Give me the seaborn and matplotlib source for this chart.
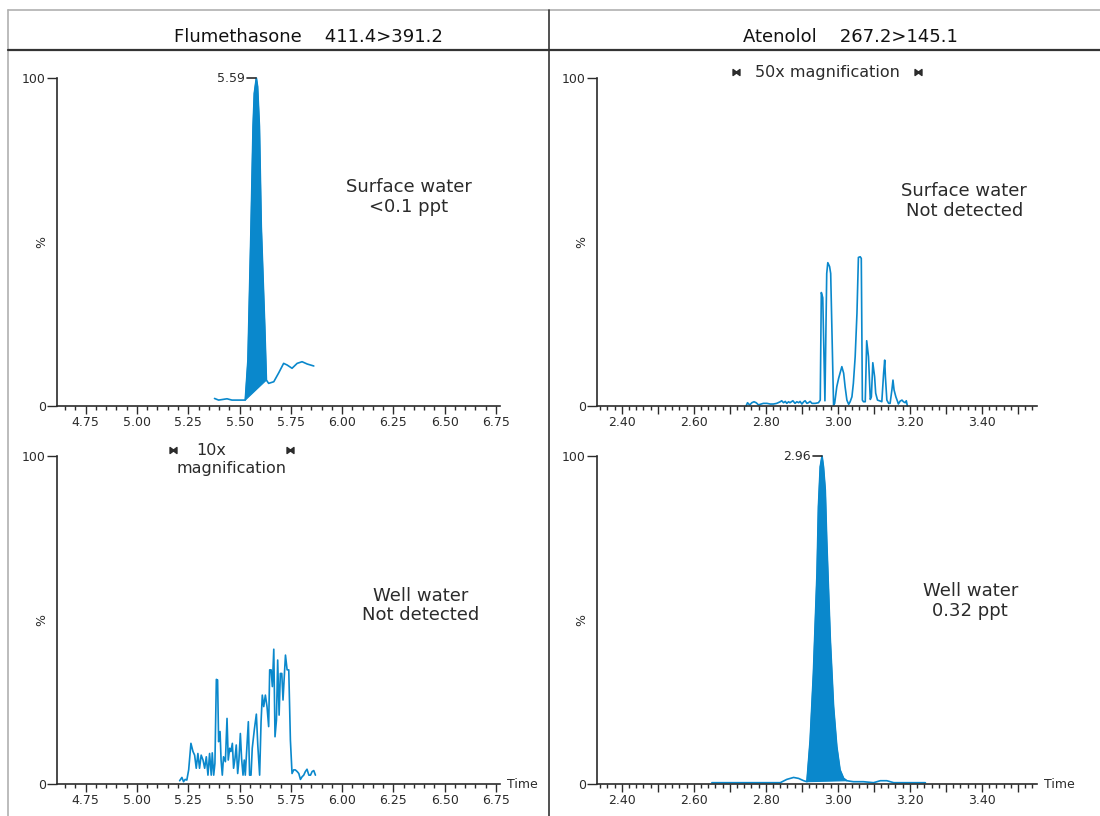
import numpy as np
import pandas as pd
import seaborn as sns
import matplotlib.pyplot as plt
from matplotlib.lines import Line2D
from matplotlib.ticker import FixedLocator, MultipleLocator

# Flumethasone, surface water (peak integrated 5.53 -> 5.63)
flu_sw_time = [5.378, 5.398, 5.439, 5.463, 5.528, 5.541, 5.556, 5.566, 5.572, 5.582, 5.588,
               5.597, 5.606, 5.623, 5.631, 5.642, 5.667, 5.691, 5.715, 5.732, 5.756, 5.781,
               5.805, 5.830, 5.862]
flu_sw_resp = [2.3, 1.8, 2.2, 1.8, 1.8, 14.0, 54.7, 85.2, 95.3, 100.0, 97.4,
               85.2, 54.7, 24.2, 7.9, 6.9, 7.4, 10.1, 13.0, 12.5, 11.5, 13.0,
               13.5, 12.8, 12.2]
flu_sw_peak = (4, 14)

# Flumethasone, well water (10x magnification)
flu_ww_time = [5.208, 5.219, 5.227, 5.235, 5.243, 5.252, 5.263, 5.273, 5.281, 5.289, 5.297,
               5.305, 5.313, 5.322, 5.330, 5.338, 5.346, 5.354, 5.362, 5.367, 5.374, 5.380,
               5.387, 5.393, 5.398, 5.405, 5.410, 5.416, 5.422, 5.431, 5.439, 5.445, 5.452,
               5.458, 5.465, 5.471, 5.478, 5.484, 5.491, 5.497, 5.504, 5.510, 5.517, 5.523,
               5.528, 5.536, 5.543, 5.549, 5.556, 5.562, 5.572, 5.582, 5.589, 5.598, 5.605,
               5.611, 5.618, 5.626, 5.634, 5.642, 5.647, 5.654, 5.660, 5.667, 5.673, 5.680,
               5.686, 5.693, 5.699, 5.706, 5.712, 5.719, 5.724, 5.732, 5.740, 5.748, 5.756,
               5.764, 5.772, 5.781, 5.789, 5.797, 5.805, 5.813, 5.821, 5.829, 5.838, 5.846,
               5.854, 5.862, 5.870]
flu_ww_resp = [1.0, 2.0, 0.7, 1.4, 1.2, 4.3, 12.4, 9.9, 8.8, 4.8, 9.3,
               4.8, 8.8, 7.3, 4.8, 8.3, 2.7, 9.3, 2.7, 9.5, 2.7, 6.3,
               31.9, 31.7, 12.9, 16.0, 7.3, 2.7, 8.3, 6.8, 20.0, 7.3, 10.9,
               9.9, 12.4, 4.8, 7.8, 11.9, 3.2, 7.3, 15.4, 7.8, 2.7, 7.3,
               2.7, 11.4, 19.0, 2.7, 2.7, 10.9, 16.5, 21.3, 11.9, 2.7, 19.0,
               27.1, 23.6, 27.1, 23.6, 17.5, 34.8, 34.8, 29.7, 41.1, 14.4, 19.5,
               37.8, 21.0, 33.7, 33.7, 25.6, 33.7, 39.3, 34.8, 34.8, 13.4, 3.2,
               4.3, 4.3, 3.8, 3.2, 1.4, 2.2, 2.7, 3.8, 4.5, 2.7, 2.7,
               3.8, 4.1, 2.7]

# Atenolol, surface water (50x magnification)
ate_sw_time = [2.745, 2.749, 2.755, 2.761, 2.767, 2.773, 2.780, 2.784, 2.793, 2.803, 2.812,
               2.821, 2.830, 2.840, 2.844, 2.849, 2.854, 2.858, 2.863, 2.867, 2.875, 2.881,
               2.886, 2.891, 2.895, 2.900, 2.905, 2.909, 2.914, 2.918, 2.923, 2.928, 2.937,
               2.946, 2.951, 2.954, 2.958, 2.964, 2.969, 2.972, 2.977, 2.980, 2.988, 2.991,
               2.997, 3.002, 3.006, 3.011, 3.016, 3.020, 3.025, 3.030, 3.034, 3.039, 3.043,
               3.048, 3.053, 3.057, 3.062, 3.065, 3.068, 3.071, 3.076, 3.080, 3.085, 3.090,
               3.093, 3.097, 3.102, 3.105, 3.110, 3.118, 3.122, 3.127, 3.130, 3.132, 3.136,
               3.141, 3.145, 3.150, 3.153, 3.156, 3.161, 3.166, 3.168, 3.173, 3.178, 3.182,
               3.187, 3.190, 3.193]
ate_sw_resp = [0.0, 1.0, 0.3, 1.0, 1.3, 1.0, 0.3, 0.5, 0.8, 0.8, 0.6,
               0.6, 0.8, 1.3, 1.6, 1.0, 1.4, 0.8, 1.3, 1.0, 1.6, 0.8,
               1.3, 1.0, 1.4, 0.6, 1.3, 1.6, 0.8, 1.0, 1.4, 0.8, 0.8,
               1.0, 1.8, 34.6, 33.0, 1.6, 40.4, 43.7, 42.5, 40.4, 0.3, 0.8,
               5.9, 8.4, 10.0, 12.0, 10.0, 5.9, 1.8, 0.5, 1.3, 2.8, 6.9,
               15.0, 28.3, 45.3, 45.5, 45.0, 1.8, 1.3, 1.3, 19.9, 15.0, 2.0,
               2.8, 13.2, 8.9, 3.9, 1.8, 1.5, 1.3, 10.0, 14.0, 8.9, 1.8,
               0.8, 0.8, 4.9, 7.9, 4.9, 2.8, 1.3, 0.6, 1.5, 1.8, 1.3,
               1.0, 1.6, 0.0]

# Atenolol, well water (peak integrated 2.91 -> 3.02)
ate_ww_time = [2.650, 2.840, 2.858, 2.877, 2.891, 2.905, 2.914, 2.923, 2.932, 2.942, 2.946,
               2.951, 2.956, 2.960, 2.965, 2.969, 2.979, 2.988, 2.997, 3.006, 3.016, 3.025,
               3.043, 3.071, 3.099, 3.118, 3.136, 3.155, 3.243]
ate_ww_resp = [0.4, 0.4, 1.4, 2.0, 1.7, 1.0, 0.7, 13.4, 33.7, 64.2, 84.6,
               96.7, 100.0, 96.7, 89.6, 74.4, 43.9, 23.6, 11.4, 4.3, 1.7, 1.0,
               0.7, 0.7, 0.4, 1.0, 1.0, 0.4, 0.4]
ate_ww_peak = (6, 21)

titles = ["Flumethasone    411.4>391.2", "Atenolol    267.2>145.1"]
left_ticks = [4.75, 5.00, 5.25, 5.50, 5.75, 6.00, 6.25, 6.50, 6.75]
left_labels = ["4.75", "5.00", "5.25", "5.50", "5.75", "6.00", "6.25", "6.50", "6.75"]
right_ticks = [2.40, 2.50, 2.60, 2.70, 2.80, 2.90, 3.00, 3.10, 3.20, 3.30, 3.40, 3.50]
right_labels = ["2.40", "", "2.60", "", "2.80", "", "3.00", "", "3.20", "", "3.40", ""]

BLUE = "#0a88cc"
INK = "#2b2b2b"

sns.set_style("ticks")
plt.rcParams["font.family"] = ["DejaVu Sans"]

fig = plt.figure(figsize=(11, 8.16), dpi=100)
W, H = 1100, 816


def make_axes(x0, x1, y_bottom):
    # pixel coords -> figure fractions
    return fig.add_axes([x0 / W, 1 - y_bottom / H, (x1 - x0) / W, 328 / H])


ax_tl = make_axes(57, 500, 406)
ax_bl = make_axes(57, 500, 784)
ax_tr = make_axes(597, 1037, 406)
ax_br = make_axes(597, 1037, 784)


def style(ax, left):
    if left:
        ax.set_xlim(4.61, 6.77)
        ax.xaxis.set_major_locator(FixedLocator(left_ticks))
        ax.set_xticklabels(left_labels)
        ax.xaxis.set_minor_locator(MultipleLocator(0.05))
    else:
        ax.set_xlim(2.331, 3.553)
        ax.xaxis.set_major_locator(FixedLocator(right_ticks))
        ax.set_xticklabels(right_labels)
        ax.xaxis.set_minor_locator(MultipleLocator(0.02))
    ax.set_ylim(0, 100)
    ax.set_yticks([0, 100])
    ax.set_yticklabels(["0", "100"])
    sns.despine(ax=ax)
    for s in ["left", "bottom"]:
        ax.spines[s].set_color(INK)
        ax.spines[s].set_linewidth(1.2)
    ax.tick_params(axis="x", which="major", length=5.5, width=1, colors=INK,
                   labelsize=9, pad=2)
    ax.tick_params(axis="x", which="minor", length=3, width=1, colors=INK)
    ax.tick_params(axis="y", which="major", length=7, width=1, colors=INK,
                   labelsize=9, pad=1)
    ax.set_xlabel("")
    ax.set_ylabel("")
    ax.text(-0.034, 0.5, "%", transform=ax.transAxes, rotation=90,
            ha="center", va="center", fontsize=9, color=INK)


def trace(ax, t, r):
    sns.lineplot(x=t, y=r, ax=ax, color=BLUE, linewidth=1.2, sort=False)
    for ln in ax.lines:
        ln.set_clip_on(False)


def peak_fill(ax, t, r, span):
    i0, i1 = span
    ax.fill(t[i0:i1 + 1], r[i0:i1 + 1], color=BLUE, linewidth=0.8, zorder=1)


def apex_label(ax, t, r, label, dash):
    i = int(np.argmax(r))
    ax.plot([t[i] - dash, t[i]], [100, 100], color=INK, lw=1.2, clip_on=False)
    ax.text(t[i] - dash * 1.25, 100, label, ha="right", va="center",
            fontsize=9, color=INK)


def magnification(ax, x0, x1, y):
    ax.plot([x0, x1], [y, y], linestyle="none", marker=r"$\bowtie$",
            markersize=5, color=INK, clip_on=False)


for ax, left in [(ax_tl, True), (ax_bl, True), (ax_tr, False), (ax_br, False)]:
    style(ax, left)

# top left: flumethasone surface water
peak_fill(ax_tl, flu_sw_time, flu_sw_resp, flu_sw_peak)
trace(ax_tl, flu_sw_time, flu_sw_resp)
apex_label(ax_tl, flu_sw_time, flu_sw_resp, "5.59", 0.045)
ax_tl.text(6.326, 63.7, "Surface water\n<0.1 ppt", ha="center", va="center",
           fontsize=13, color=INK, linespacing=1.1)

# bottom left: flumethasone well water
trace(ax_bl, flu_ww_time, flu_ww_resp)
magnification(ax_bl, 5.174, 5.745, 101.8)
ax_bl.text(5.36, 101.8, "10x", ha="center", va="center", fontsize=11.5, color=INK)
ax_bl.text(5.462, 96.3, "magnification", ha="center", va="center", fontsize=11.5, color=INK)
ax_bl.text(6.384, 54.4, "Well water\nNot detected", ha="center", va="center",
           fontsize=13, color=INK, linespacing=1.1)

# top right: atenolol surface water
trace(ax_tr, ate_sw_time, ate_sw_resp)
magnification(ax_tr, 2.7175, 3.223, 101.8)
ax_tr.text(2.972, 101.8, "50x magnification", ha="center", va="center",
           fontsize=11.5, color=INK)
ax_tr.text(3.351, 62.5, "Surface water\nNot detected", ha="center", va="center",
           fontsize=13, color=INK, linespacing=1.1)

# bottom right: atenolol well water
peak_fill(ax_br, ate_ww_time, ate_ww_resp, ate_ww_peak)
trace(ax_br, ate_ww_time, ate_ww_resp)
apex_label(ax_br, ate_ww_time, ate_ww_resp, "2.96", 0.025)
ax_br.text(3.3675, 55.8, "Well water\n0.32 ppt", ha="center", va="center",
           fontsize=13, color=INK, linespacing=1.1)

for ax in (ax_bl, ax_br):
    ax.text(1.016, 0, "Time", transform=ax.get_yaxis_transform(), ha="left",
            va="center", fontsize=9, color=INK)

# frame: header row and column divider
fx = lambda px: px / W
fy = lambda py: 1 - py / H
fig.add_artist(Line2D([fx(8), 1], [fy(10), fy(10)], color="#b0b0b0", lw=1.2))
fig.add_artist(Line2D([fx(8), fx(8)], [0, fy(10)], color="#b0b0b0", lw=1.2))
fig.add_artist(Line2D([fx(8), 1], [fy(50), fy(50)], color="#333333", lw=1.6))
fig.add_artist(Line2D([fx(549), fx(549)], [0, fy(10)], color="#333333", lw=1.2))

fig.text(fx(308), fy(37), titles[0], ha="center", va="center", fontsize=13, color="#111111")
fig.text(fx(850), fy(37), titles[1], ha="center", va="center", fontsize=13, color="#111111")

fig.savefig("out.png", dpi=100, facecolor="white")
